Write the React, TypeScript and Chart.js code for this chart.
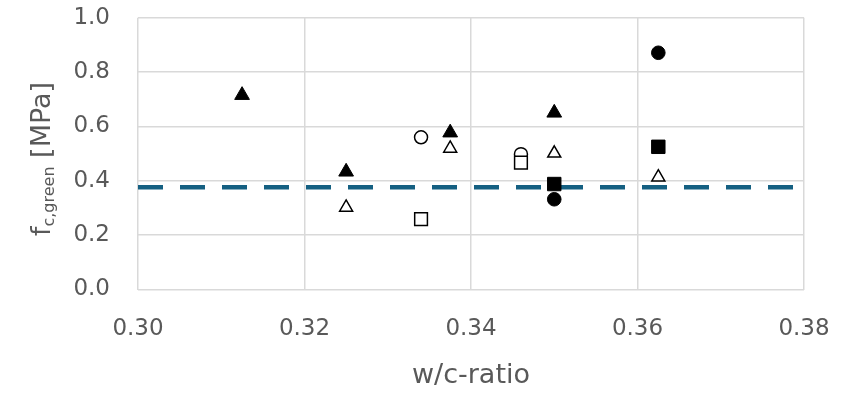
import React, { useEffect, useRef } from "react";
import { Chart, registerables } from "chart.js";

Chart.register(...registerables);

// ---- data ----
const xTickValues = [0.3, 0.32, 0.34, 0.36, 0.38];
const yTickValues = [0, 0.2, 0.4, 0.6, 0.8, 1.0];

const filledTriX = [0.3125, 0.325, 0.3375, 0.35];
const filledTriY = [0.715, 0.433, 0.577, 0.65];

const openTriX = [0.325, 0.3375, 0.35, 0.3625];
const openTriY = [0.302, 0.519, 0.501, 0.413];

const openCircX = [0.334, 0.346];
const openCircY = [0.56, 0.498];

const openSqX = [0.334, 0.346];
const openSqY = [0.259, 0.467];

const filledSqX = [0.35, 0.3625];
const filledSqY = [0.388, 0.525];

const filledCircX = [0.35, 0.3625];
const filledCircY = [0.332, 0.871];

const limitX = [0.3, 0.38];
const limitY = [0.376, 0.376];

const xTitle = "w/c-ratio";
const yTitleMain = "f";
const yTitleSub = "c,green";
const yTitleRest = " [MPa]";

const pts = (xs: number[], ys: number[]) => xs.map((x, i) => ({ x, y: ys[i] }));

const FONT = '"DejaVu Sans"';
const TEXT = "#595959";
const GRID = "#d9d9d9";

const titlePlugin = {
  id: "axisTitles",
  afterDraw(chart: any) {
    const { ctx, chartArea } = chart;
    ctx.save();
    ctx.fillStyle = TEXT;
    ctx.textBaseline = "alphabetic";
    // x title
    ctx.font = `27px ${FONT}`;
    ctx.textAlign = "center";
    ctx.fillText(xTitle, (chartArea.left + chartArea.right) / 2, 383);
    // y title (rotated, with subscript)
    ctx.translate(50, 159);
    ctx.rotate(-Math.PI / 2);
    ctx.textAlign = "left";
    ctx.font = `27px ${FONT}`;
    const wF = ctx.measureText(yTitleMain).width;
    const wR = ctx.measureText(yTitleRest).width;
    ctx.font = `16px ${FONT}`;
    const wS = ctx.measureText(yTitleSub).width;
    let pos = -(wF + wS + wR) / 2;
    ctx.font = `27px ${FONT}`;
    ctx.fillText(yTitleMain, pos, 0);
    pos += wF;
    ctx.font = `16px ${FONT}`;
    ctx.fillText(yTitleSub, pos, 4);
    pos += wS;
    ctx.font = `27px ${FONT}`;
    ctx.fillText(yTitleRest, pos, 0);
    ctx.restore();
  },
};

export default function App() {
  const ref = useRef<HTMLCanvasElement>(null);

  useEffect(() => {
    if (!ref.current) return;
    const marker = (
      label: string,
      data: any[],
      style: string,
      radius: number,
      filled: boolean
    ) => ({
      type: "scatter" as const,
      label,
      data,
      pointStyle: style,
      pointRadius: radius,
      pointBackgroundColor: filled ? "#000000" : "#ffffff",
      pointBorderColor: "#000000",
      pointBorderWidth: filled ? 1 : 1.5,
      showLine: false,
    });

    const chart = new Chart(ref.current, {
      type: "scatter",
      data: {
        datasets: [
          marker("filledTri", pts(filledTriX, filledTriY), "triangle", 8.5, true),
          marker("openTri", pts(openTriX, openTriY), "triangle", 7.5, false),
          marker("openSq", pts(openSqX, openSqY), "rect", 9, false),
          marker("openCirc", pts(openCircX, openCircY), "circle", 6.5, false),
          marker("filledSq", pts(filledSqX, filledSqY), "rect", 9.5, true),
          marker("filledCirc", pts(filledCircX, filledCircY), "circle", 6.8, true),
          {
            type: "line" as const,
            label: "limit",
            data: pts(limitX, limitY),
            borderColor: "#156082",
            borderWidth: 4.5,
            borderDash: [25, 17],
            borderCapStyle: "butt",
            pointRadius: 0,
            fill: false,
          } as any,
        ],
      },
      options: {
        animation: false,
        responsive: false,
        maintainAspectRatio: false,
        layout: { padding: { top: 17.7, right: 42, left: 0, bottom: 0 } },
        plugins: {
          legend: { display: false },
          tooltip: { enabled: false },
          title: { display: false },
        },
        scales: {
          x: {
            type: "linear",
            min: 0.3,
            max: 0.38,
            afterBuildTicks: (s: any) => {
              s.ticks = xTickValues.map((v) => ({ value: v }));
            },
            afterFit: (s: any) => {
              s.height = 103.5;
              s.paddingLeft = 0;
              s.paddingRight = 0;
            },
            ticks: {
              callback: (v: any) => Number(v).toFixed(2),
              font: { family: FONT, size: 23 },
              color: TEXT,
              padding: 26,
              maxRotation: 0,
              autoSkip: false,
            },
            grid: { color: GRID, lineWidth: 1.5, drawTicks: false, tickLength: 0 },
            border: { display: false },
          },
          y: {
            type: "linear",
            min: 0,
            max: 1,
            afterBuildTicks: (s: any) => {
              s.ticks = yTickValues.map((v) => ({ value: v }));
            },
            afterFit: (s: any) => {
              s.width = 138;
              s.paddingTop = 0;
              s.paddingBottom = 0;
            },
            ticks: {
              callback: (v: any) => Number(v).toFixed(1),
              font: { family: FONT, size: 23 },
              color: TEXT,
              padding: 28,
              autoSkip: false,
            },
            grid: { color: GRID, lineWidth: 1.5, drawTicks: false, tickLength: 0 },
            border: { display: false },
          },
        },
      } as any,
      plugins: [titlePlugin],
    });
    return () => chart.destroy();
  }, []);

  return (
    <div style={{ position: "fixed", left: 0, top: 0, width: 846, height: 393, background: "#ffffff" }}>
      <canvas ref={ref} width={846} height={393} style={{ display: "block" }} />
    </div>
  );
}
